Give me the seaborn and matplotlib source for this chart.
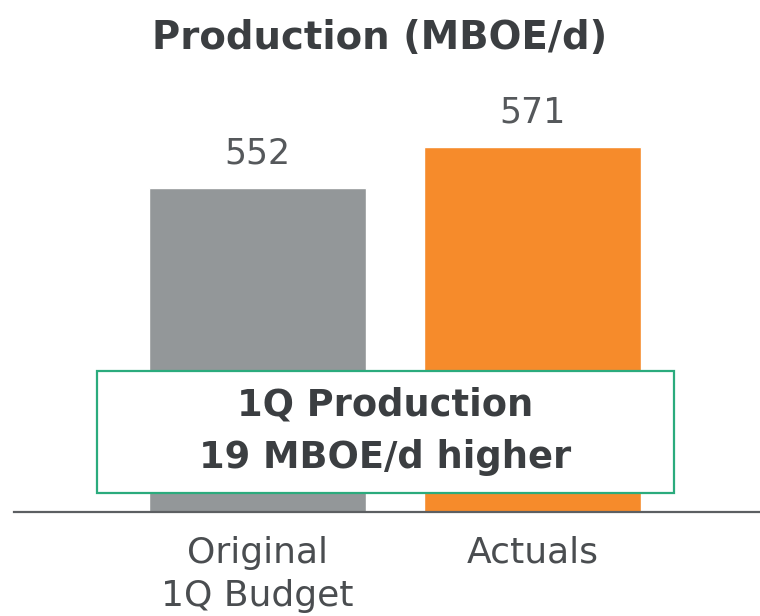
import matplotlib
matplotlib.use("Agg")
import matplotlib.pyplot as plt
import matplotlib.patches as mpatches
import seaborn as sns
import pandas as pd

# data
categories = ["Original\n1Q Budget", "Actuals"]
values = [552, 571]
bar_colors = ["#939799", "#f68b2b"]

title = "Production (MBOE/d)"
callout = "1Q Production\n19 MBOE/d higher"

sns.set_theme(style="white")
plt.rcParams["font.family"] = ["DejaVu Sans"]

df = pd.DataFrame({"cat": categories, "val": values})

fig = plt.figure(figsize=(7.6, 6.16), dpi=100)
ax = fig.add_axes([14 / 760, 1 - 512 / 616, 746 / 760, (512 - 90) / 616])

sns.barplot(data=df, x="cat", y="val", hue="cat", palette=bar_colors,
            width=0.79, legend=False, ax=ax, saturation=1)

ax.set_ylim(402, 597.5)
ax.set_xlim(-0.885, 1.827)

for i, v in enumerate(values):
    ax.text(i, v + 8, f"{v}", ha="center", va="bottom", fontsize=25,
            color="#55585b")

for s in ["top", "right", "left"]:
    ax.spines[s].set_visible(False)
ax.spines["bottom"].set_color("#5c5f62")
ax.spines["bottom"].set_linewidth(1.6)
ax.set_yticks([])
ax.set_xlabel("")
ax.set_ylabel("")
ax.tick_params(axis="x", length=0, pad=17, labelsize=26, labelcolor="#4a4d50")
for lbl in ax.get_xticklabels():
    lbl.set_linespacing(1.35)

fig.text(0.5, 1 - 38 / 616, title, ha="center", va="center", fontsize=27.8,
         fontweight="bold", color="#3b3e41")

box = mpatches.Rectangle((97 / 760, 1 - 493 / 616), 577 / 760, 122 / 616,
                         transform=fig.transFigure, facecolor="white",
                         edgecolor="#2bab7d", linewidth=1.6, zorder=5)
fig.patches.append(box)
fig.text(385 / 760, 1 - 431 / 616, callout, ha="center", va="center",
         fontsize=26.5, fontweight="bold", color="#3b3e41", linespacing=1.55,
         zorder=6)

fig.savefig("out.png", dpi=100)
